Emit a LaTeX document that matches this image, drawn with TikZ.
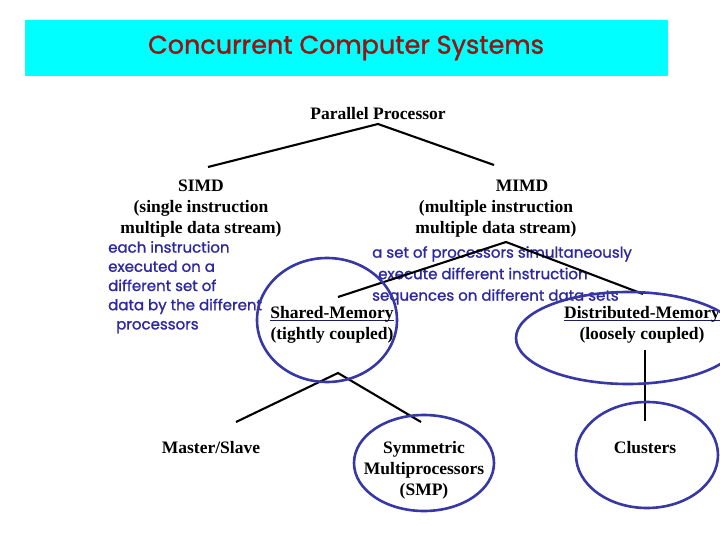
\documentclass[tikz,border=0pt]{standalone}
\usepackage{fontspec}
\setmainfont{Liberation Serif}
\newfontfamily\comic[FakeBold=1.2]{Poppins}
\definecolor{titlecyan}{RGB}{0,255,255}
\definecolor{titlered}{RGB}{150,20,20}
\definecolor{noteblue}{RGB}{45,40,160}
\definecolor{ringblue}{RGB}{55,55,165}
\definecolor{ulblue}{RGB}{30,30,90}
\newcommand{\thickul}[1]{\mbox{\setbox0\hbox{#1}\rlap{\raisebox{-2.6pt}{\color{ulblue}\rule{\wd0}{1.3pt}}}\box0}}
\begin{document}
\begin{tikzpicture}[x=1pt,y=-1pt,
  lbl/.style={font=\fontsize{17.5}{21}\selectfont\bfseries, align=center, inner sep=0pt},
  note/.style={font=\comic\fontsize{15}{19.2}\selectfont, text=noteblue, align=left, inner sep=0pt, anchor=north west},
  ring/.style={draw=ringblue, line width=2.6pt},
  edge/.style={line width=2.1pt}]
\useasboundingbox (0,0) rectangle (720,540);
\fill[titlecyan] (25,20) rectangle (668,76);
\node[font=\comic\fontsize{25.5}{28}\selectfont, text=titlered] (title) at (346,48) {Concurrent Computer Systems};

% notes
\node[note] (leftnote) at (108,241) {each instruction\\executed on a\\different set of\\data by the different\\\hspace*{8pt}processors};
\node[note, font=\comic\fontsize{15}{21.5}\selectfont] (rightnote) at (372,246) {a set of processors simultaneously\\\hspace*{6pt}execute different instruction\\sequences on different data sets};

% labels
\node[lbl] (pp) at (378,114) {Parallel Processor};
\node[lbl] (simd) at (201,209) {SIMD\\(single instruction\\multiple data stream)};
\node[lbl] (mimd) at (496,209) {\hspace*{52pt}MIMD\\(multiple instruction\\multiple data stream)};
\node[lbl] (shm) at (332,325) {\thickul{Shared-Memory}\\(tightly coupled)};
\node[lbl] (dsm) at (642,325) {\thickul{Distributed-Memory}\\(loosely coupled)};
\node[lbl] (ms) at (211,448) {Master/Slave};
\node[lbl] (smp) at (424,470) {Symmetric\\Multiprocessors\\(SMP)};
\node[lbl] (cl) at (645,448) {Clusters};

% junction points
\coordinate (ppj) at (378,124);
\coordinate (simdt) at (208,167);
\coordinate (mimdt) at (494,165);
\coordinate (mimdj) at (506,242);
\coordinate (shmt) at (338,297);
\coordinate (dsmt) at (643,294);
\coordinate (shmj) at (338,373);
\coordinate (dsmj) at (645,350);
\coordinate (mst) at (236,422);
\coordinate (smpt) at (421,422);
\coordinate (clt) at (645,421);

\draw[edge] (simdt) -- (ppj) -- (mimdt);
\draw[edge] (shmt) -- (mimdj) -- (dsmt);
\draw[edge] (mst) -- (shmj) -- (smpt);
\draw[edge] (dsmj) -- (clt);

% rings
\draw[ring] (327,320) ellipse [x radius=70, y radius=62];
\draw[ring] (628,338) ellipse [x radius=112, y radius=46];
\draw[ring] (424,463) ellipse [x radius=70, y radius=48];
\draw[ring] (647,455) ellipse [x radius=71, y radius=53];
\end{tikzpicture}
\end{document}
